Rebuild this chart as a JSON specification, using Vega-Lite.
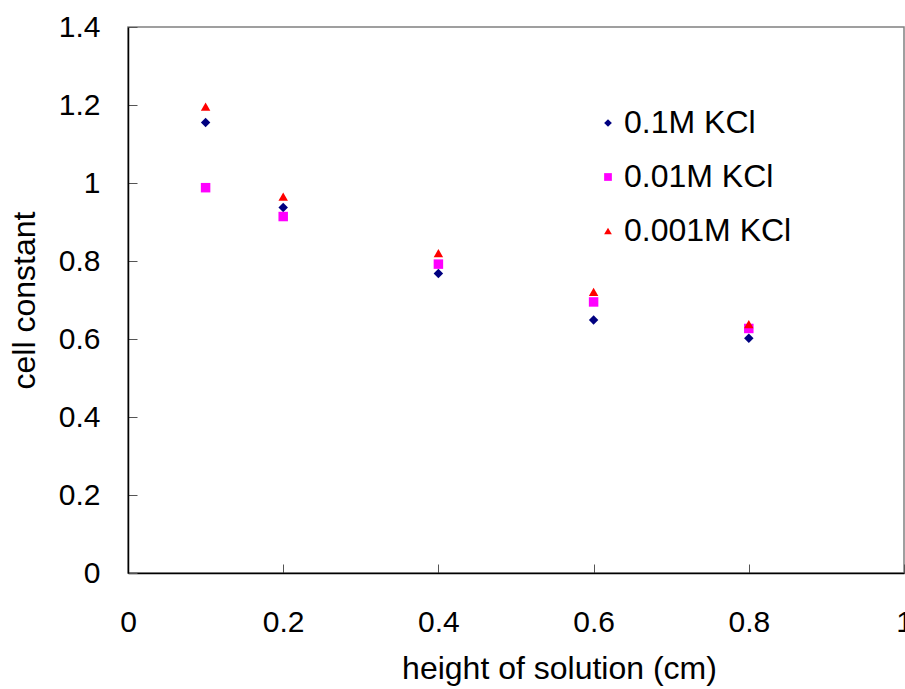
{
  "$schema": "https://vega.github.io/schema/vega-lite/v6.json",
  "width": 776,
  "height": 546,
  "autosize": {"type": "none"},
  "padding": {"left": 128, "top": 27, "right": 1, "bottom": 116},
  "background": "white",
  "config": {
    "view": {"stroke": "#808080", "strokeWidth": 1.5},
    "font": "Liberation Sans",
    "axis": {"grid": false, "ticks": true, "tickSize": -9, "tickColor": "#555555", "tickWidth": 1, "domainColor": "#000000", "domainWidth": 1.5, "labelFont": "Liberation Sans", "labelFontSize": 30, "labelColor": "#000000", "titleFont": "Liberation Sans", "titleFontSize": 32, "titleFontWeight": "normal", "titleColor": "#000000"}
  },
  "data": {
    "values": [
      {"h": 0.1, "k": 1.155, "s": "0.1M KCl"},
      {"h": 0.2, "k": 0.937, "s": "0.1M KCl"},
      {"h": 0.4, "k": 0.768, "s": "0.1M KCl"},
      {"h": 0.6, "k": 0.649, "s": "0.1M KCl"},
      {"h": 0.8, "k": 0.602, "s": "0.1M KCl"},
      {"h": 0.1, "k": 0.988, "s": "0.01M KCl"},
      {"h": 0.2, "k": 0.914, "s": "0.01M KCl"},
      {"h": 0.4, "k": 0.792, "s": "0.01M KCl"},
      {"h": 0.6, "k": 0.695, "s": "0.01M KCl"},
      {"h": 0.8, "k": 0.627, "s": "0.01M KCl"},
      {"h": 0.1, "k": 1.196, "s": "0.001M KCl"},
      {"h": 0.2, "k": 0.965, "s": "0.001M KCl"},
      {"h": 0.4, "k": 0.820, "s": "0.001M KCl"},
      {"h": 0.6, "k": 0.721, "s": "0.001M KCl"},
      {"h": 0.8, "k": 0.638, "s": "0.001M KCl"}
    ]
  },
  "mark": {"type": "point", "filled": true, "opacity": 1, "size": 90},
  "encoding": {
    "x": {"field": "h", "type": "quantitative", "scale": {"domain": [0, 1], "nice": false, "zero": true},
      "axis": {"values": [0, 0.2, 0.4, 0.6, 0.8, 1], "format": "~g", "title": "height of solution (cm)", "titleX": 431, "labelPadding": 43, "titlePadding": 16, "labelFlush": false, "labelOverlap": false}},
    "y": {"field": "k", "type": "quantitative", "scale": {"domain": [0, 1.4], "nice": false},
      "axis": {"values": [0, 0.2, 0.4, 0.6, 0.8, 1, 1.2, 1.4], "format": "~g", "title": "cell constant", "labelPadding": 37, "titlePadding": 17, "labelFlush": false, "labelOverlap": false}},
    "color": {"field": "s", "type": "nominal",
      "scale": {"domain": ["0.1M KCl", "0.01M KCl", "0.001M KCl"], "range": ["#000080", "#FF00FF", "#FF0000"]},
      "legend": {"title": null, "orient": "none", "legendX": 464, "legendY": 80, "labelFontSize": 32, "labelFont": "Liberation Sans", "labelColor": "#000000", "labelLimit": 400, "symbolSize": 60, "rowPadding": 22, "labelOffset": 0, "symbolOpacity": 1}},
    "shape": {"field": "s", "type": "nominal",
      "scale": {"domain": ["0.1M KCl", "0.01M KCl", "0.001M KCl"], "range": ["diamond", "square", "triangle-up"]}}
  }
}
